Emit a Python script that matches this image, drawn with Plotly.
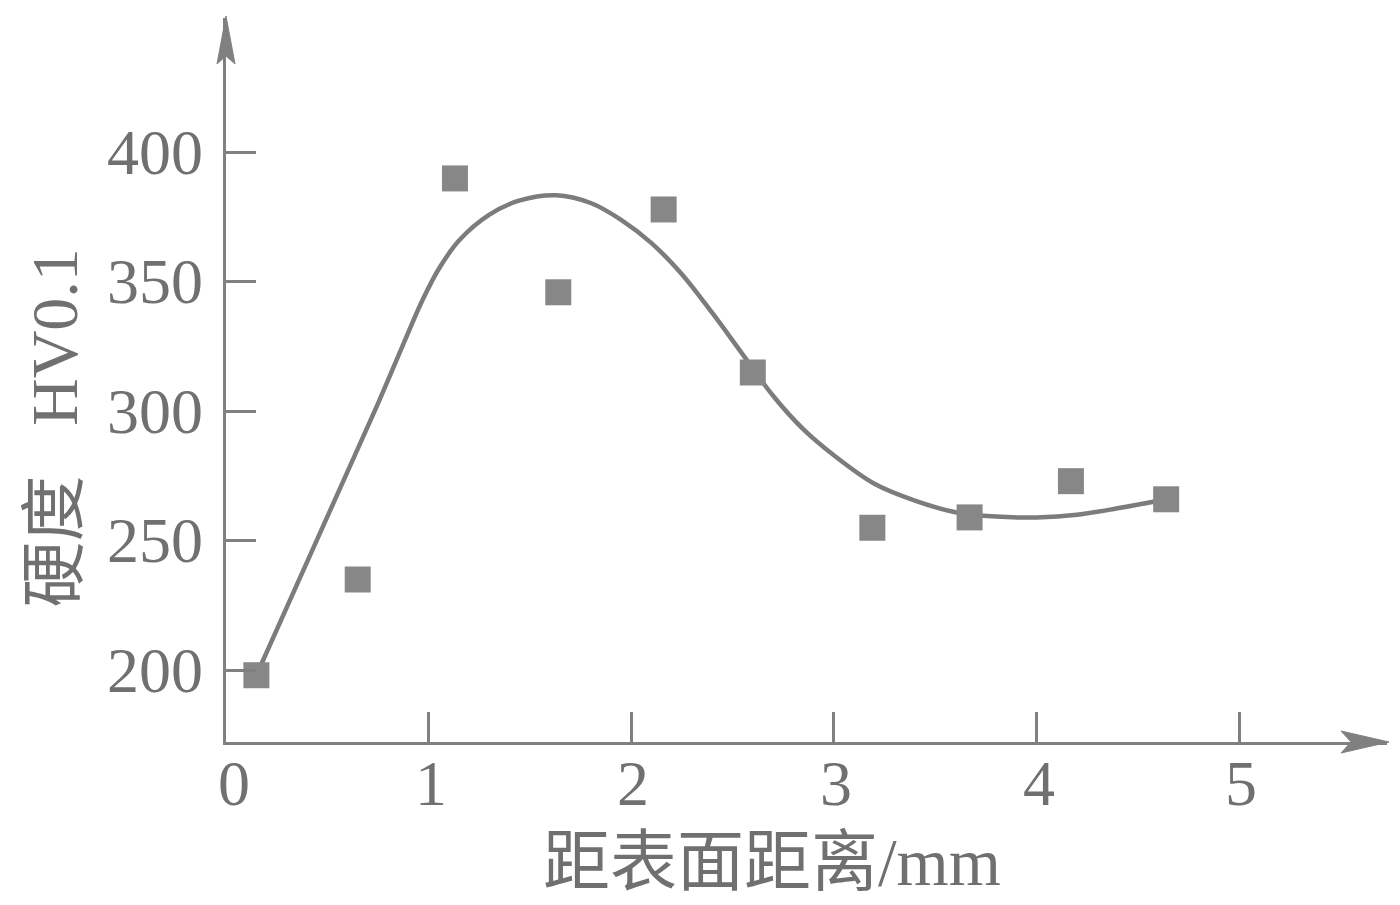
import plotly.graph_objects as go

# Measured hardness points (distance from surface, mm ; HV0.1)
pts_x = [0.15, 0.65, 1.13, 1.64, 2.16, 2.60, 3.19, 3.67, 4.17, 4.64]
pts_y = [198, 235, 390, 346, 378, 315, 255, 259, 273, 266]

# Fitted trend curve
curve_x = [0.15, 0.35, 0.55, 0.75, 0.87, 0.97, 1.05, 1.15, 1.30, 1.45, 1.63,
           1.80, 1.95, 2.10, 2.25, 2.40, 2.55, 2.70, 2.85, 3.00, 3.20, 3.40,
           3.60, 3.80, 4.00, 4.20, 4.40, 4.64]
curve_y = [198, 233, 268, 303, 325, 343, 355, 366, 376, 381.5, 383.5,
           380.5, 374, 365, 353, 338, 322, 306, 293, 283, 272, 265.5,
           261, 259.3, 259, 260, 262.5, 266]

x_ticks = [0, 1, 2, 3, 4, 5]
y_ticks = [200, 250, 300, 350, 400]

x_title = "距表面距离/mm"
y_title = "硬度\u00a0\u00a0\u00a0HV0.1"

X_MIN, X_MAX = 0, 5.73
Y_MIN, Y_MAX = 172.2, 452

AX = "#808080"
TXT = "#707070"
FONT = "Liberation Serif, Times New Roman, Noto Sans CJK SC, serif"

fig = go.Figure()
fig.add_trace(go.Scatter(
    x=curve_x, y=curve_y, mode="lines",
    line=dict(color="#7c7c7c", width=4.5, shape="spline", smoothing=1.0),
    hoverinfo="skip", showlegend=False))
fig.add_trace(go.Scatter(
    x=pts_x, y=pts_y, mode="markers",
    marker=dict(symbol="square", size=26, color="#878787", line=dict(width=0)),
    showlegend=False))

fig.update_xaxes(range=[X_MIN, X_MAX], tickvals=x_ticks, showticklabels=False,
                 showline=True, linecolor=AX, linewidth=3, ticks="inside", ticklen=30,
                 tickwidth=3, tickcolor=AX, showgrid=False, zeroline=False,
                 automargin=False)
fig.update_yaxes(range=[Y_MIN, Y_MAX], tickvals=y_ticks, showticklabels=False,
                 showline=True, linecolor=AX, linewidth=3, ticks="inside", ticklen=30,
                 tickwidth=3, tickcolor=AX, showgrid=False, zeroline=False,
                 automargin=False)

# tick labels
for v in x_ticks:
    fig.add_annotation(x=v + (0.04 if v == 0 else 0.01), y=-0.057, xref="x", yref="paper",
                       text=str(v), showarrow=False, xanchor="center", yanchor="middle",
                       font=dict(family=FONT, size=64, color=TXT))
for v in y_ticks:
    fig.add_annotation(x=-0.0185, y=v, xref="paper", yref="y",
                       text=str(v), showarrow=False, xanchor="right", yanchor="middle",
                       font=dict(family=FONT, size=64, color=TXT))

# axis arrowheads (pixel-sized shapes anchored at the axis ends, paper refs so not clipped)
fig.add_shape(type="path", xref="paper", yref="paper", xsizemode="pixel", ysizemode="pixel",
              xanchor=1, yanchor=0,
              path="M 2 0 L -46 11 L -36 0 L -46 -11 Z",
              fillcolor=AX, line=dict(color=AX, width=1), layer="above")
fig.add_shape(type="path", xref="paper", yref="paper", xsizemode="pixel", ysizemode="pixel",
              xanchor=0, yanchor=1,
              path="M 0 2 L -9 -46 L 0 -38 L 9 -46 Z",
              fillcolor=AX, line=dict(color=AX, width=1), layer="above")

# axis titles
fig.add_annotation(x=2.694, y=-0.166, xref="x", yref="paper", text=x_title,
                   showarrow=False, xanchor="center", yanchor="middle",
                   font=dict(family=FONT, size=67, color=TXT))
fig.add_annotation(x=-0.1478, y=293.5, xref="paper", yref="y", text=y_title,
                   showarrow=False, textangle=-90, xanchor="center", yanchor="middle",
                   font=dict(family=FONT, size=66, color=TXT))

# page body has an 8px margin: shift the figure so the plot area lands where it should
fig.update_layout(width=1392, height=897, margin=dict(l=218, r=13, t=10, b=163),
                  paper_bgcolor="white", plot_bgcolor="white")

fig.write_html("out.html")
